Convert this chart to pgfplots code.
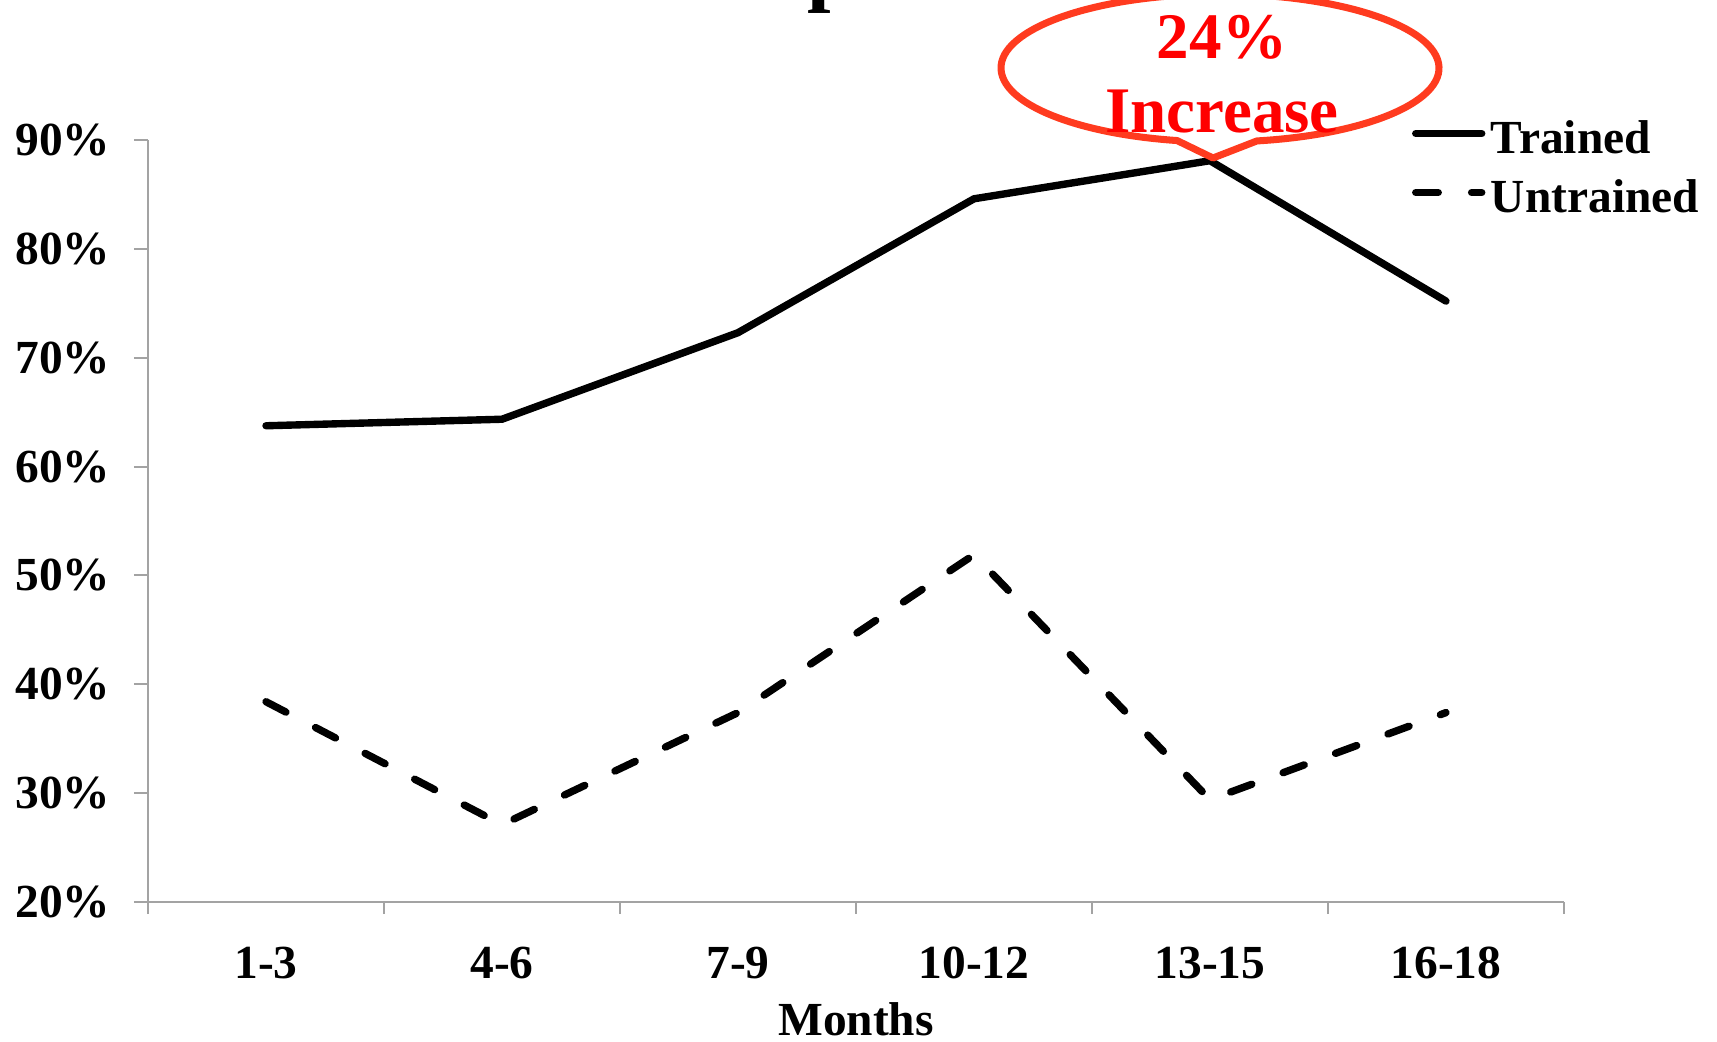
\documentclass[border=0pt]{standalone}
\usepackage{pgfplots}
\pgfplotsset{compat=1.18}
\usepackage{fontspec}
\setmainfont{Liberation Serif}

\definecolor{axisgray}{HTML}{A3A3A3}
\definecolor{calloutred}{HTML}{FF3B1F}
\definecolor{textred}{HTML}{FF0000}

\newcommand{\lblfont}{\bfseries\fontsize{13.5}{16}\selectfont}
\newcommand{\calloutfont}{\bfseries\fontsize{18.5}{22}\selectfont}

\tikzset{
  trained/.style={black, line width=2.1pt, line cap=round, line join=round},
  untrained/.style={black, line width=2.1pt, line cap=round, line join=round,
    dash pattern=on 6.4pt off 9.5pt},
}

\begin{document}
\begin{tikzpicture}
\begin{axis}[
  name=ax,
  width=14.16cm, height=7.62cm, scale only axis,
  xmin=-0.5, xmax=5.5, ymin=20, ymax=90,
  clip=false,
  axis x line=bottom, axis y line=left,
  axis line style={-, draw=axisgray, line width=0.6pt},
  tick style={draw=axisgray, line width=0.6pt},
  tick align=outside,
  major tick length=0.14cm,
  minor tick length=0.12cm,
  xtick={0,...,5},
  xticklabels={1-3,4-6,7-9,10-12,13-15,16-18},
  major x tick style={draw=none},
  minor xtick={-0.5,0.5,1.5,2.5,3.5,4.5,5.5},
  ytick={20,30,...,90},
  yticklabels={20\%,30\%,40\%,50\%,60\%,70\%,80\%,90\%},
  tick label style={font=\lblfont},
  yticklabel style={anchor=east, inner sep=0pt, xshift=-0.23cm},
  xticklabel style={anchor=north, inner sep=0pt, yshift=-0.30cm},
  xlabel={Months},
  xlabel style={at={(axis description cs:0.5,0)}, anchor=base, inner sep=0pt, yshift=-1.33cm, font=\lblfont},
  legend style={at={(rel axis cs:0.8927,1.0354)}, anchor=north west, draw=none, fill=none,
    inner sep=0pt, outer sep=0pt, font=\lblfont, column sep=0.055cm, row sep=0pt,
    nodes={inner sep=0pt, text height=0.40cm, text depth=0.19cm}},
  legend cell align=left,
  legend image code/.code={\draw[#1] (0.04cm,0.09cm) -- (0.70cm,0.09cm);},
]
% trained group
\addplot[trained, forget plot]
  coordinates {(0,63.75) (1,64.35) (2,72.3) (3,84.6) (4,88.1) (5,75.2)};
% untrained group
\addplot[untrained, forget plot]
  coordinates {(0,38.4) (1,27.1) (2,37.4) (3,51.9) (4,29.4) (5,37.4)};

\addlegendimage{trained}
\addlegendentry{Trained}
\addlegendimage{untrained}
\addlegendentry{Untrained}
\end{axis}

% title, mostly above the page
\node[anchor=base west, inner sep=0pt, font=\bfseries\fontsize{24}{28}\selectfont]
  at ([xshift=6.59cm, yshift=9.06cm]ax.south west) {p};

% callout bubble
\coordinate (cc) at ([xshift=10.72cm, yshift=8.34cm]ax.south west);
\coordinate (tip) at ([xshift=10.65cm, yshift=7.44cm]ax.south west);
\draw[calloutred, line width=2pt, line join=round]
  (cc) ++(-80.3:2.19cm and 0.74cm)
  arc[start angle=-80.3, end angle=258.7, x radius=2.19cm, y radius=0.74cm]
  -- (tip) -- cycle;
\node[anchor=base, inner sep=0pt, text=textred, font=\calloutfont]
  at ([xshift=10.74cm, yshift=8.44cm]ax.south west) {24\%};
\node[anchor=base, inner sep=0pt, text=textred, font=\calloutfont]
  at ([xshift=10.74cm, yshift=7.70cm]ax.south west) {Increase};

\pgfresetboundingbox
\useasboundingbox ([xshift=-1.48cm, yshift=-1.39cm]ax.south west)
  rectangle ([xshift=15.69cm, yshift=9.02cm]ax.south west);
\end{tikzpicture}
\end{document}
